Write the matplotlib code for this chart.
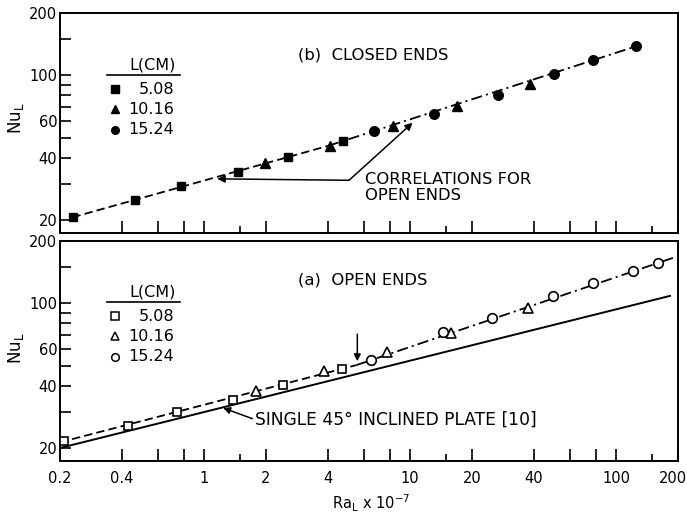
import matplotlib
matplotlib.use("Agg")
import matplotlib.pyplot as plt
from matplotlib.ticker import FixedLocator, FixedFormatter, NullFormatter
from matplotlib.transforms import ScaledTranslation

plt.rcParams['font.family'] = ['DejaVu Sans']
plt.rcParams['lines.scale_dashes'] = False

# ---------------- data ----------------
# (b) closed ends, filled markers
closed_x_508 = [0.23, 0.46, 0.77, 1.46, 2.57, 4.75]
closed_y_508 = [20.7, 25.1, 29.1, 34.2, 40.5, 47.9]
closed_x_1016 = [1.98, 4.09, 8.3, 16.9, 38.2]
closed_y_1016 = [37.6, 45.3, 56.8, 71.3, 91.2]
closed_x_1524 = [6.71, 13.1, 26.8, 50.0, 77.6, 124.7]
closed_y_1524 = [53.7, 65.0, 80.7, 102.0, 118.6, 138.0]

# (a) open ends, open markers
open_x_508 = [0.21, 0.427, 0.736, 1.39, 2.43, 4.66]
open_y_508 = [21.6, 25.6, 29.9, 34.2, 40.4, 48.2]
open_x_1016 = [1.79, 3.84, 7.7, 15.8, 37.5]
open_y_1016 = [37.5, 47.3, 58.0, 72.1, 95.3]
open_x_1524 = [6.47, 14.5, 24.9, 49.3, 77.6, 121.0, 160.0]
open_y_1524 = [53.1, 72.9, 85.3, 107.9, 126.0, 143.6, 156.0]

# correlation lines
closed_lam_x = [0.23, 4.0]
closed_lam_y = [20.6, 45.6]
closed_turb_x = [4.0, 125.0]
closed_turb_y = [45.6, 138.0]
open_lam_x = [0.2, 5.5]
open_lam_y = [21.3, 50.3]
open_turb_x = [5.5, 190.0]
open_turb_y = [50.3, 166.0]
plate_x = [0.2, 183.0]
plate_y = [20.0, 108.6]

legend_labels = ['5.08', '10.16', '15.24']
x_major = [0.2, 0.4, 0.6, 0.8, 1, 2, 4, 6, 8, 10, 20, 40, 60, 80, 100, 200]
x_small = [1.5, 15, 150]
x_labels = {0.2: '0.2', 0.4: '0.4', 1: '1', 2: '2', 4: '4', 10: '10',
            20: '20', 40: '40', 100: '100', 200: '200'}
y_ticks = [20, 30, 40, 50, 60, 70, 80, 90, 100, 150, 200]
y_labels = {20: '20', 40: '40', 60: '60', 100: '100', 200: '200'}

W, H = 687, 517
fig = plt.figure(figsize=(W / 100, H / 100), dpi=100)

def px_axes(l, t, r, b):
    return fig.add_axes([l / W, (H - b) / H, (r - l) / W, (b - t) / H])

ax_b = px_axes(60, 13, 678, 233)
ax_a = px_axes(60, 241, 678, 461)

dashed = (0, (6, 3))
dashdot = (0, (8, 3, 1.5, 3))
ms = 6.4

def style_axes(ax, show_xlabels):
    ax.set_xscale('log')
    ax.set_yscale('log')
    ax.set_xlim(0.2, 200)
    ax.set_ylim(17.3, 200)
    for s in ax.spines.values():
        s.set_linewidth(1.4)
    ax.xaxis.set_major_locator(FixedLocator(x_major))
    ax.xaxis.set_minor_locator(FixedLocator(x_small))
    if show_xlabels:
        ax.xaxis.set_major_formatter(FixedFormatter([x_labels.get(v, '') for v in x_major]))
    else:
        ax.xaxis.set_major_formatter(NullFormatter())
    ax.xaxis.set_minor_formatter(NullFormatter())
    ax.yaxis.set_major_locator(FixedLocator(y_ticks))
    ax.yaxis.set_major_formatter(FixedFormatter([y_labels.get(v, '') for v in y_ticks]))
    ax.yaxis.set_minor_locator(FixedLocator([]))
    ax.yaxis.set_minor_formatter(NullFormatter())
    ax.tick_params(axis='x', which='major', direction='in', length=9, width=1.2,
                   labelsize=10.5, pad=7, top=False)
    ax.tick_params(axis='x', which='minor', direction='in', length=5, width=1.2, top=False)
    ax.tick_params(axis='y', which='major', direction='in', length=8, width=1.2,
                   labelsize=10.5, pad=2, right=False)

style_axes(ax_b, False)
style_axes(ax_a, True)

# y-axis titles (placed in figure pixels so they stay inside the canvas)
fig.text(16 / W, 1 - 118 / H, r'Nu$_\mathrm{L}$', fontsize=12, rotation=90,
         ha='center', va='center')
fig.text(16 / W, 1 - 348 / H, r'Nu$_\mathrm{L}$', fontsize=12, rotation=90,
         ha='center', va='center')

# shift the last x tick label ("200") slightly left so it stays inside the figure
last_tick = ax_a.xaxis.get_major_ticks()[-1]
last_tick.label1.set_transform(last_tick.label1.get_transform() +
                               ScaledTranslation(-5 / 100, 0, fig.dpi_scale_trans))

# ---------------- (b) closed ends ----------------
ax_b.plot(closed_lam_x, closed_lam_y, color='black', lw=1.3, linestyle=dashed, zorder=2)
ax_b.plot(closed_turb_x, closed_turb_y, color='black', lw=1.3, linestyle=dashdot, zorder=2)
ax_b.plot(closed_x_508, closed_y_508, 's', ms=ms, color='black', zorder=3, linestyle='none')
ax_b.plot(closed_x_1016, closed_y_1016, '^', ms=ms + 0.5, color='black', zorder=3, linestyle='none')
ax_b.plot(closed_x_1524, closed_y_1524, 'o', ms=ms + 0.5, color='black', zorder=3, linestyle='none')

ax_b.text(0.385, 0.81, '(b)  CLOSED ENDS', transform=ax_b.transAxes, fontsize=11.8,
          ha='left', va='center')

# correlation annotation
ax_b.annotate('', xy=(1.16, 31.6), xytext=(5.06, 31.1),
              arrowprops=dict(arrowstyle='-|>', color='black', lw=1.1,
                              mutation_scale=11, shrinkA=0, shrinkB=0))
ax_b.annotate('', xy=(10.3, 59.0), xytext=(5.06, 31.1),
              arrowprops=dict(arrowstyle='-|>', color='black', lw=1.1,
                              mutation_scale=11, shrinkA=0, shrinkB=0))
ax_b.text(0.494, 0.207, 'CORRELATIONS FOR\nOPEN ENDS', transform=ax_b.transAxes,
          fontsize=11.8, ha='left', va='center', linespacing=1.15)

# ---------------- (a) open ends ----------------
ax_a.plot(plate_x, plate_y, color='black', lw=1.4, linestyle='-', zorder=2)
ax_a.plot(open_lam_x, open_lam_y, color='black', lw=1.3, linestyle=dashed, zorder=2)
ax_a.plot(open_turb_x, open_turb_y, color='black', lw=1.3, linestyle=dashdot, zorder=2)
ax_a.plot(open_x_508, open_y_508, 's', ms=ms, mfc='white', mec='black', mew=1.2, zorder=3, linestyle='none')
ax_a.plot(open_x_1016, open_y_1016, '^', ms=ms + 0.5, mfc='white', mec='black', mew=1.2, zorder=3, linestyle='none')
ax_a.plot(open_x_1524, open_y_1524, 'o', ms=ms + 0.5, mfc='white', mec='black', mew=1.2, zorder=3, linestyle='none')

ax_a.text(0.385, 0.823, '(a)  OPEN ENDS', transform=ax_a.transAxes, fontsize=11.8,
          ha='left', va='center')

# transition arrow
ax_a.annotate('', xy=(5.55, 52.5), xytext=(5.55, 71.0),
              arrowprops=dict(arrowstyle='-|>', color='black', lw=1.1,
                              mutation_scale=10, shrinkA=0, shrinkB=0))
# single plate annotation
ax_a.annotate('SINGLE 45° INCLINED PLATE [10]', xy=(1.24, 31.2), xytext=(1.77, 27.4),
              fontsize=12.3, ha='left', va='center',
              arrowprops=dict(arrowstyle='-|>', color='black', lw=1.1,
                              mutation_scale=10, shrinkA=0, shrinkB=0,
                              relpos=(0, 0.5)))

# legends as text
def draw_legend(ax, filled, y_header):
    tr = ax.transAxes
    fx = lambda px: (px - 60) / 618.0
    ax.text(fx(153), y_header, 'L(CM)', transform=tr, fontsize=11.5, ha='center', va='center')
    ax.plot([fx(107), fx(180)], [y_header - 0.045, y_header - 0.045], transform=tr,
            color='black', lw=1.2, clip_on=False)
    markers = ['s', '^', 'o']
    for i, (m, lab) in enumerate(zip(markers, legend_labels)):
        yy = y_header - 0.11 - i * 0.092
        if filled:
            ax.plot([fx(115)], [yy], m, ms=5.5, color='black', transform=tr, clip_on=False)
        else:
            ax.plot([fx(115)], [yy], m, ms=5.5, mfc='white', mec='black', mew=1.1,
                    transform=tr, clip_on=False)
        ax.text(fx(174), yy, lab, transform=tr, fontsize=11.5, ha='right', va='center')

draw_legend(ax_b, True, (233 - 65) / 220.0)
draw_legend(ax_a, False, (461 - 292) / 220.0)

fig.text(371 / W, 1 - 503 / H, r'Ra$_\mathrm{L}$ x 10$^{-7}$', fontsize=10.5,
         ha='center', va='center')

fig.savefig('out.png', dpi=100)
